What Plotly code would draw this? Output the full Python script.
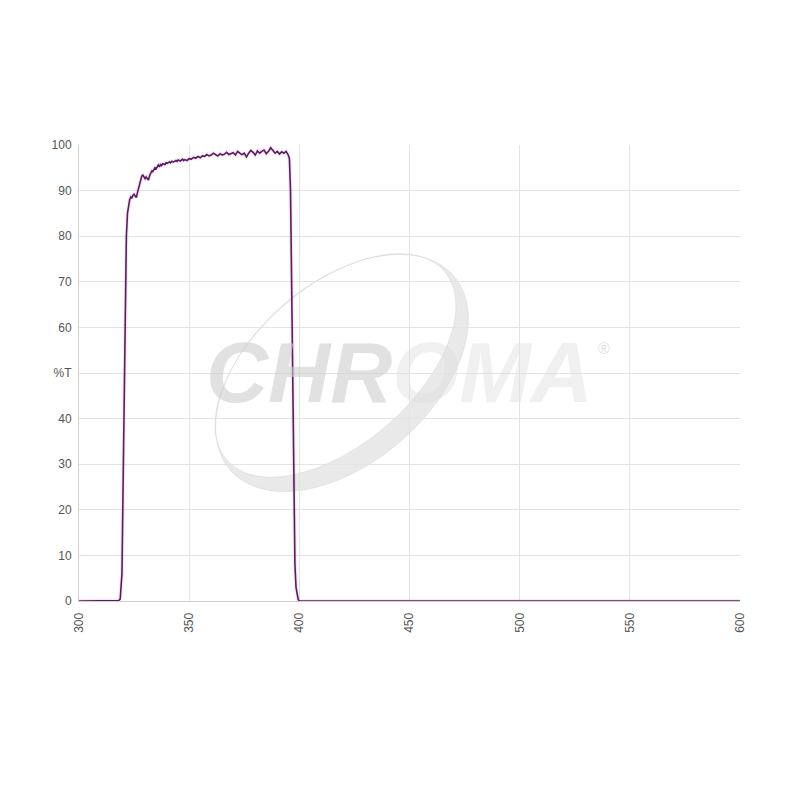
import numpy as np
import plotly.graph_objects as go

# ---- data ----
wavelength = [300, 316, 318, 318.7, 319, 319.5, 320, 320.5, 321, 321.5, 322, 322.5, 323, 323.5, 324,
              324.5, 325, 325.5, 326, 326.5, 327, 327.5, 328, 328.5, 329, 329.5, 330, 330.5, 331,
              331.5, 332, 332.5, 333, 333.5, 334, 334.5, 335, 335.5, 336, 336.5, 337, 337.5, 338,
              339, 339.5, 340, 341, 341.5, 342, 343, 344, 344.5, 345, 346, 347, 347.5, 348, 349,
              350, 351, 352, 353, 354, 355, 356, 357, 358, 359, 360, 361, 362, 363, 364, 365, 366,
              367, 368, 369, 370, 371, 372, 373, 374, 375, 376, 377, 378, 379, 380, 381, 382, 383,
              384, 385, 386, 387, 388, 389, 390, 391, 392, 393, 394, 394.5, 395, 395.5, 396, 396.5,
              397, 397.5, 398, 398.5, 399, 399.5, 400, 600]
transmission = [0, 0, 0.1, 0.4, 2, 6, 25, 48, 68, 80, 85, 86.8, 88, 88.6, 88.3,
                89, 89.2, 88.8, 88.5, 89.5, 90.5, 91, 92.3, 93.2, 93.4, 92.8, 92.6, 93, 92.5,
                92.3, 93.2, 94, 94.3, 94.2, 94.8, 95, 94.8, 95.4, 95.6, 95.2, 95.7, 95.5, 95.9,
                95.7, 96.1, 96, 96.3, 96.1, 96.4, 96.3, 96.6, 96.4, 96.7, 96.5, 96.9, 96.6, 96.8, 96.6,
                97, 96.9, 97.3, 97.1, 97.5, 97.2, 97.6, 97.5, 97.9, 97.6, 97.8, 98.2, 97.8, 97.6, 98.1, 97.8, 98,
                98.4, 97.9, 98.1, 98.3, 97.8, 98.6, 98.2, 97.9, 98.2, 97.4, 98.2, 98.8, 98.4, 97.8, 98.7, 98.2, 98.6,
                98.9, 98.1, 98.6, 99.4, 98.8, 98.2, 98.6, 98, 98.5, 98.2, 98.6, 98.2, 97.8, 97, 90, 70,
                45, 22, 8, 3, 1, 0.3, 0, 0]
x_ticks = [300, 350, 400, 450, 500, 550, 600]
y_ticks = [0, 10, 20, 30, 40, 50, 60, 70, 80, 90, 100]
y_tick_labels = ["0", "10", "20", "30", "40", "%T", "60", "70", "80", "90", "100"]
watermark_solid = "CHR"
watermark_light = "OMA"

fig = go.Figure()

# soft glow under the line
fig.add_trace(go.Scatter(x=wavelength, y=transmission, mode="lines",
                         line=dict(color="rgba(210,130,210,0.18)", width=4),
                         hoverinfo="skip", showlegend=False))
fig.add_trace(go.Scatter(x=wavelength, y=transmission, mode="lines",
                         line=dict(color="#5a1d5c", width=1.6), showlegend=False))

# ---- watermark (reference-pixel based, converted to paper coords) ----
L, R, T, B = 78, 739, 144, 600
def px(xp, yp):
    return (xp - L) / (R - L), (B - yp) / (B - T)

def ellipse_pts(cx, cy, a, b, ang, n=140, rev=False):
    t = np.linspace(0, 2 * np.pi, n)
    if rev:
        t = t[::-1]
    ca, sa = np.cos(ang), np.sin(ang)
    xs = cx + a * np.cos(t) * ca - b * np.sin(t) * sa
    ys = cy - (a * np.cos(t) * sa + b * np.sin(t) * ca)
    return xs, ys

ang = np.deg2rad(41)
ox, oy = ellipse_pts(341, 372, 148, 90, ang)
shift = 10
sx, sy = -shift * np.sin(ang), -shift * np.cos(ang)
ix, iy = ellipse_pts(341 + sx, 372 + sy, 144, 79, ang, rev=True)

def to_path(xs, ys):
    pts = [px(a, b) for a, b in zip(xs, ys)]
    return "M " + " L ".join(f"{p[0]:.4f},{p[1]:.4f}" for p in pts) + " Z"

fig.add_shape(type="path", xref="paper", yref="paper",
              path=to_path(ox, oy) + " " + to_path(ix, iy),
              fillcolor="rgba(215,215,215,0.55)", line=dict(width=0.6, color="rgba(200,200,200,0.6)"),
              layer="below")

wx, wy = px(398, 371)
fig.add_annotation(
    x=wx, y=wy, xref="paper", yref="paper", showarrow=False,
    text=(f"<b><i><span style='color:rgba(205,205,205,0.6)'>{watermark_solid}</span>"
          f"<span style='color:rgba(222,222,222,0.45)'>{watermark_light}</span></i></b>"),
    font=dict(size=86, family="Liberation Sans"),
    xanchor="center", yanchor="middle")
rx, ry = px(611, 347)
fig.add_annotation(x=rx, y=ry, xref="paper", yref="paper", text="®", showarrow=False,
                   font=dict(size=16, color="rgba(210,210,210,0.7)", family="Liberation Sans"))

fig.update_layout(
    width=800, height=800,
    margin=dict(l=71, r=68, t=137, b=207),
    paper_bgcolor="white", plot_bgcolor="white",
    font=dict(family="Liberation Sans, Arial", size=12, color="#555"),
)
fig.update_xaxes(range=[300, 600], tickvals=x_ticks, ticktext=[str(v) for v in x_ticks],
                 tickangle=-90, showgrid=True, gridcolor="#e3e3e3", gridwidth=1,
                 showline=True, linecolor="#cfcfcf", zeroline=False, ticks="",
                 ticklabelstandoff=6, tickfont=dict(size=12, color="#555"))
fig.update_yaxes(range=[0, 100], tickvals=y_ticks, ticktext=y_tick_labels, showgrid=True,
                 gridcolor="#e3e3e3", gridwidth=1, showline=True, linecolor="#cfcfcf",
                 zeroline=False, ticks="", ticklabelstandoff=4,
                 tickfont=dict(size=12, color="#555"))

fig.write_html("out.html")
